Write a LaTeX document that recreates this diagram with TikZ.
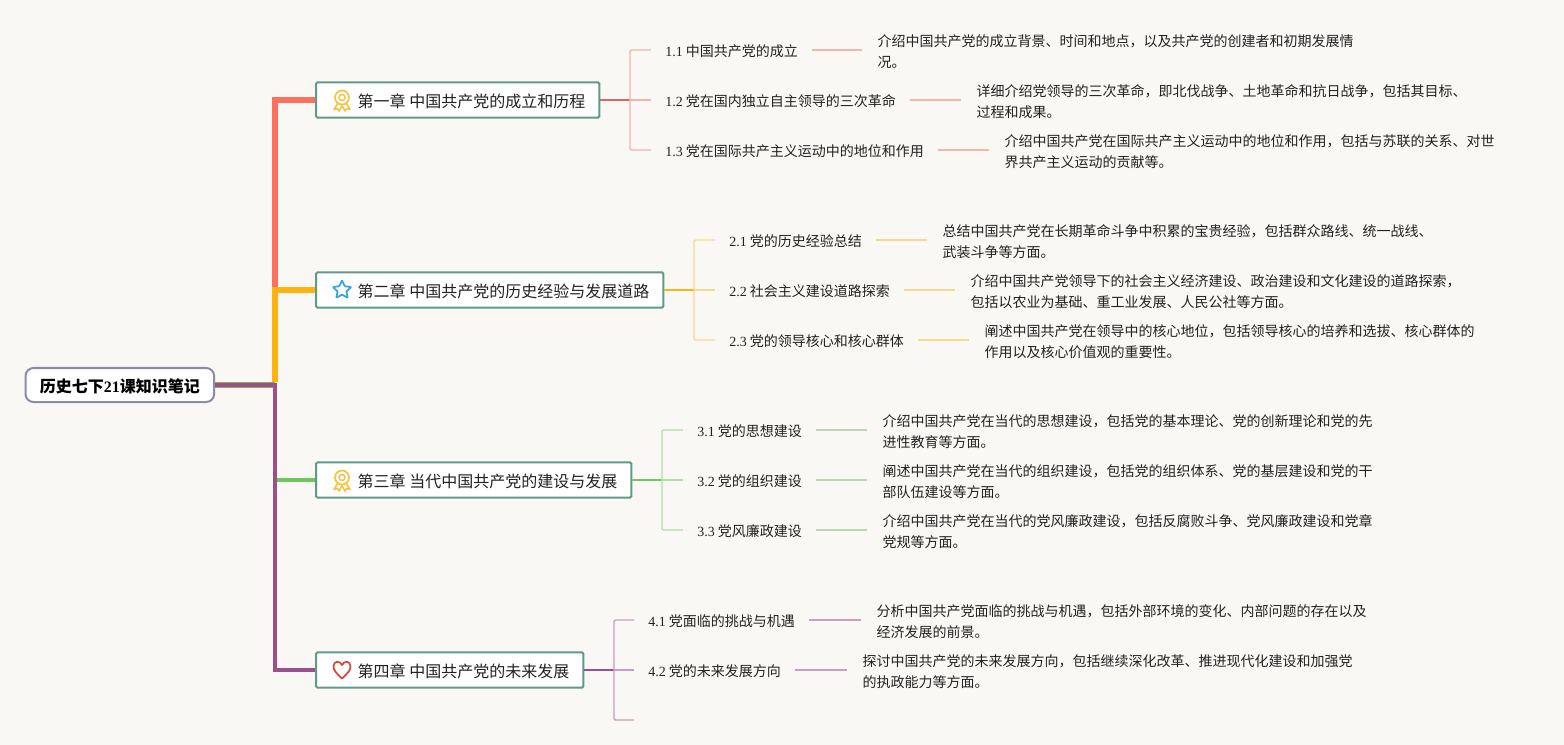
\documentclass[tikz,border=0pt]{standalone}
\usepackage{fontspec}
\setmainfont{Noto Sans CJK SC}
\newfontfamily\latinfont{Liberation Serif}
\usetikzlibrary{shapes.geometric,backgrounds}
\definecolor{paper}{HTML}{F9F8F5}
\definecolor{rootline}{HTML}{8C8CA8}
\definecolor{boxline}{HTML}{5F9A8B}
\definecolor{redmain}{HTML}{FF6F5E}
\definecolor{redsub}{HTML}{F4B5A9}
\definecolor{yellowmain}{HTML}{FFB310}
\definecolor{yellowsub}{HTML}{FBD98C}
\definecolor{greenmain}{HTML}{72C45F}
\definecolor{greensub}{HTML}{B4DDAB}
\definecolor{olivemix}{HTML}{98A850}
\definecolor{purplemain}{HTML}{9B4F8E}
\definecolor{purplesub}{HTML}{C99DC2}
\definecolor{medalcol}{HTML}{F6C445}
\definecolor{starcol}{HTML}{3AA3DD}
\definecolor{heartcol}{HTML}{D8473A}
\definecolor{textcol}{HTML}{222222}
\newcommand{\secnum}[1]{{\latinfont #1} }
\tikzset{
    rootnode/.style={draw=rootline,line width=1.5pt,fill=white,rounded corners=6pt,anchor=west,
        minimum width=141.5pt,minimum height=25.5pt,inner sep=0pt,text height=12pt,text depth=1.4pt,
        font=\fontsize{12}{14}\selectfont\bfseries},
    chapter/.style={draw=boxline,line width=1.5pt,fill=white,rounded corners=1pt,anchor=west,
        minimum height=26.5pt,inner xsep=10.5pt,inner ysep=0pt,text height=12pt,text depth=1.4pt,
        text=textcol,font=\fontsize{12}{14}\selectfont},
    subsec/.style={anchor=west,inner xsep=10.5pt,inner ysep=0pt,text height=10.5pt,text depth=1pt,
        text=textcol,font=\fontsize{10.5}{13}\selectfont},
    detail/.style={anchor=west,align=left,inner xsep=11.5pt,inner ysep=0pt,yshift=-1.2pt,text=textcol,
        font=\fontsize{10.5}{15.75}\selectfont},
    bus/.style={line width=1.1pt,rounded corners=1pt},
    medal/.pic={
        \draw[medalcol,line width=1.3pt] (0,-2.5) circle (7);
        \draw[medalcol,line width=1.1pt] (0,-2.5) circle (3);
        \draw[medalcol,line width=1.2pt,line join=round] (-4.5,3.5) -- (-8,9.5) -- (-4.5,8.5) -- (-3,11) -- (0,5.5)
            -- (3,11) -- (4.5,8.5) -- (8,9.5) -- (4.5,3.5);
    },
}
\begin{document}
\begin{tikzpicture}[x=0.75pt,y=-0.75pt]
    % Draw paper background
    \begin{scope}[on background layer]
        \fill[paper] (0,0) rectangle (1564,745);
    \end{scope}
    \useasboundingbox (0,0) rectangle (1564,745);

    % Root and chapters
    \node[rootnode] (root) at (24.5,385) {历史七下{\latinfont 21}课知识笔记};
    \node[chapter] (ch1) at (315,100) {\hspace*{20.75pt}第一章 中国共产党的成立和历程};
    \node[chapter] (ch2) at (315,290) {\hspace*{20.75pt}第二章 中国共产党的历史经验与发展道路};
    \node[chapter] (ch3) at (315,480) {\hspace*{20.75pt}第三章 当代中国共产党的建设与发展};
    \node[chapter] (ch4) at (315,670) {\hspace*{20.75pt}第四章 中国共产党的未来发展};
    \coordinate (trunk) at (275,385);
    \coordinate (trunktop) at (275,382.3);

    % Draw main branches
    \begin{scope}[on background layer]
        \draw[redmain,line width=4.5pt] (trunktop) |- (ch1.west);
        \draw[yellowmain,line width=4.5pt] (trunktop) |- (ch2.west);
        \draw[greenmain,line width=3pt] (trunk) |- (ch3.west);
        \draw[greenmain,line width=3.4pt] (trunk |- ch3.west) -- (ch3.west);
        \draw[olivemix,line width=3.9pt] (root.east) -- (trunk);
        \draw[purplemain,line width=2.3pt] (root.east) -- (trunk) |- (ch4.west);
    \end{scope}

    % Draw icons
    \pic at (342,100) {medal};
    \node[star,star points=5,star point ratio=2.1,draw=starcol,line width=1.3pt,rounded corners=0.6pt,
        minimum size=14.5pt,inner sep=0pt] (staricon) at (342,290) {};
    \pic at (342,480) {medal};
    \draw[heartcol,line width=1.3pt,line join=round] (342,678.5)
        .. controls (336,673) and (333.5,670) .. (333.5,666.5)
        .. controls (333.5,660.5) and (340,660.5) .. (342,665)
        .. controls (344,660.5) and (350.5,660.5) .. (350.5,666.5)
        .. controls (350.5,670) and (348,673) .. (342,678.5) -- cycle;

    % Chapter one
    \node[subsec] (s11) at (651,50) {\secnum{1.1}中国共产党的成立};
    \node[subsec] (s12) at (651,100) {\secnum{1.2}党在国内独立自主领导的三次革命};
    \node[subsec] (s13) at (651,150) {\secnum{1.3}党在国际共产主义运动中的地位和作用};
    \node[detail] (d11) at (862,50) {介绍中国共产党的成立背景、时间和地点，以及共产党的创建者和初期发展情\\况。};
    \node[detail] (d12) at (961,100) {详细介绍党领导的三次革命，即北伐战争、土地革命和抗日战争，包括其目标、\\过程和成果。};
    \node[detail] (d13) at (989,150) {介绍中国共产党在国际共产主义运动中的地位和作用，包括与苏联的关系、对世\\界共产主义运动的贡献等。};
    \coordinate (b1) at (630,100);
    \draw[redmain!80!black!90,line width=1.1pt] (ch1.east) -- (b1);
    \draw[redsub,bus] (s11.west) -| (b1) |- (s13.west);
    \draw[redsub,bus] (b1) -- (s12.west);
    \draw[redsub,bus] (s11.east) -- (s11.east -| d11.west);
    \draw[redsub,bus] (s12.east) -- (s12.east -| d12.west);
    \draw[redsub,bus] (s13.east) -- (s13.east -| d13.west);

    % Chapter two
    \node[subsec] (s21) at (715,240) {\secnum{2.1}党的历史经验总结};
    \node[subsec] (s22) at (715,290) {\secnum{2.2}社会主义建设道路探索};
    \node[subsec] (s23) at (715,340) {\secnum{2.3}党的领导核心和核心群体};
    \node[detail] (d21) at (927,240) {总结中国共产党在长期革命斗争中积累的宝贵经验，包括群众路线、统一战线、\\武装斗争等方面。};
    \node[detail] (d22) at (955,290) {介绍中国共产党领导下的社会主义经济建设、政治建设和文化建设的道路探索，\\包括以农业为基础、重工业发展、人民公社等方面。};
    \node[detail] (d23) at (969,340) {阐述中国共产党在领导中的核心地位，包括领导核心的培养和选拔、核心群体的\\作用以及核心价值观的重要性。};
    \coordinate (b2) at (694,290);
    \draw[yellowmain,line width=1.1pt] (ch2.east) -- (b2);
    \draw[yellowsub,bus] (s21.west) -| (b2) |- (s23.west);
    \draw[yellowsub,bus] (b2) -- (s22.west);
    \draw[yellowsub,bus] (s21.east) -- (s21.east -| d21.west);
    \draw[yellowsub,bus] (s22.east) -- (s22.east -| d22.west);
    \draw[yellowsub,bus] (s23.east) -- (s23.east -| d23.west);

    % Chapter three
    \node[subsec] (s31) at (683,430) {\secnum{3.1}党的思想建设};
    \node[subsec] (s32) at (683,480) {\secnum{3.2}党的组织建设};
    \node[subsec] (s33) at (683,530) {\secnum{3.3}党风廉政建设};
    \node[detail] (d31) at (867,430) {介绍中国共产党在当代的思想建设，包括党的基本理论、党的创新理论和党的先\\进性教育等方面。};
    \node[detail] (d32) at (867,480) {阐述中国共产党在当代的组织建设，包括党的组织体系、党的基层建设和党的干\\部队伍建设等方面。};
    \node[detail] (d33) at (867,530) {介绍中国共产党在当代的党风廉政建设，包括反腐败斗争、党风廉政建设和党章\\党规等方面。};
    \coordinate (b3) at (662,480);
    \draw[greenmain,line width=1.1pt] (ch3.east) -- (b3);
    \draw[greensub,bus] (s31.west) -| (b3) |- (s33.west);
    \draw[greensub,bus] (b3) -- (s32.west);
    \draw[greensub,bus] (s31.east) -- (s31.east -| d31.west);
    \draw[greensub,bus] (s32.east) -- (s32.east -| d32.west);
    \draw[greensub,bus] (s33.east) -- (s33.east -| d33.west);

    % Chapter four
    \node[subsec] (s41) at (634,620) {\secnum{4.1}党面临的挑战与机遇};
    \node[subsec] (s42) at (634,670) {\secnum{4.2}党的未来发展方向};
    \coordinate (s43) at (634,720);
    \node[detail] (d41) at (861,620) {分析中国共产党面临的挑战与机遇，包括外部环境的变化、内部问题的存在以及\\经济发展的前景。};
    \node[detail] (d42) at (847,670) {探讨中国共产党的未来发展方向，包括继续深化改革、推进现代化建设和加强党\\的执政能力等方面。};
    \coordinate (b4) at (614,670);
    \draw[purplemain,line width=1.1pt] (ch4.east) -- (b4);
    \draw[purplesub,bus] (s41.west) -| (b4) |- (s43);
    \draw[purplesub,bus] (b4) -- (s42.west);
    \draw[purplesub,bus] (s41.east) -- (s41.east -| d41.west);
    \draw[purplesub,bus] (s42.east) -- (s42.east -| d42.west);
\end{tikzpicture}
\end{document}
